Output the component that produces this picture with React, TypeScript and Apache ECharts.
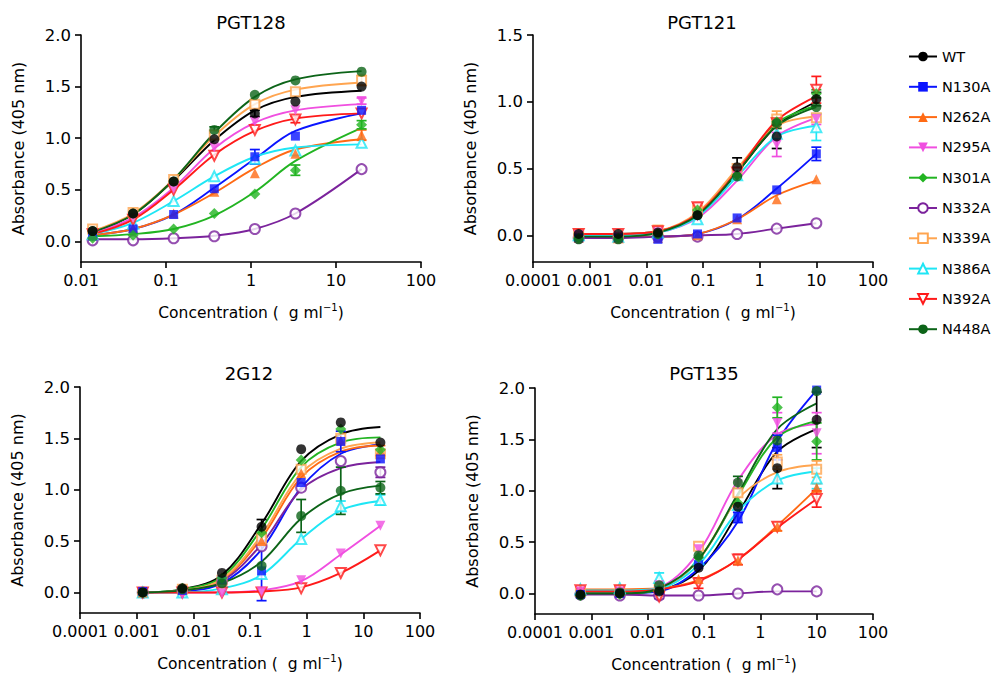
import React, { useEffect, useRef } from 'react';
import * as echarts from 'echarts';

// ---------- data ----------
const MUTANTS = ['WT', 'N130A', 'N262A', 'N295A', 'N301A', 'N332A', 'N339A', 'N386A', 'N392A', 'N448A'];

const X_TICKS_4DEC = [0.01, 0.1, 1, 10, 100];
const X_TICKS_6DEC = [0.0001, 0.001, 0.01, 0.1, 1, 10, 100];
const Y_TICKS_20 = [0, 0.5, 1, 1.5, 2];
const Y_TICKS_15 = [0, 0.5, 1, 1.5];

// PGT128
const PGT128_CONC = [0.0137, 0.041, 0.123, 0.37, 1.11, 3.33, 20];
const PGT128_MEAN = [
  [0.10, 0.27, 0.58, 0.99, 1.24, 1.355, 1.50],
  [0.05, 0.12, 0.26, 0.51, 0.82, 1.02, 1.27],
  [0.06, 0.13, 0.27, 0.48, 0.66, 0.85, 1.03],
  [0.08, 0.23, 0.51, 0.91, 1.16, 1.27, 1.36],
  [0.03, 0.06, 0.12, 0.27, 0.46, 0.69, 1.13],
  [0.01, 0.01, 0.03, 0.05, 0.12, 0.27, 0.70],
  [0.12, 0.28, 0.60, 1.03, 1.33, 1.45, 1.56],
  [0.07, 0.17, 0.39, 0.63, 0.80, 0.88, 0.955],
  [0.07, 0.21, 0.50, 0.83, 1.08, 1.18, 1.24],
  [0.10, 0.27, 0.58, 1.08, 1.42, 1.56, 1.645],
];
const PGT128_SEM = [
  [0, 0, 0, 0, 0.03, 0, 0],
  [0, 0, 0, 0, 0.07, 0, 0],
  [0, 0, 0, 0, 0, 0, 0.05],
  [0, 0, 0, 0, 0, 0, 0.03],
  [0, 0, 0, 0, 0, 0.05, 0.04],
  [0, 0, 0, 0, 0, 0, 0],
  [0, 0, 0, 0, 0, 0, 0.05],
  [0, 0, 0, 0, 0, 0, 0],
  [0, 0, 0, 0, 0, 0.03, 0],
  [0, 0, 0, 0.03, 0, 0, 0],
];
const PGT128_FIT = [
  [0.09, 0.26, 0.59, 0.98, 1.27, 1.40, 1.46],
  [0.06, 0.12, 0.26, 0.52, 0.80, 1.07, 1.24],
  [0.06, 0.12, 0.26, 0.47, 0.71, 0.89, 0.99],
  [0.08, 0.23, 0.52, 0.90, 1.15, 1.27, 1.33],
  [0.05, 0.07, 0.12, 0.25, 0.48, 0.78, 1.10],
  [0.02, 0.02, 0.03, 0.055, 0.12, 0.27, 0.70],
  [0.10, 0.27, 0.60, 1.02, 1.33, 1.47, 1.54],
  [0.07, 0.18, 0.39, 0.63, 0.82, 0.91, 0.94],
  [0.07, 0.21, 0.50, 0.84, 1.07, 1.19, 1.24],
  [0.09, 0.26, 0.60, 1.05, 1.40, 1.57, 1.65],
];

// PGT121
const PGT121_CONC = [0.00064, 0.0032, 0.016, 0.08, 0.4, 2, 10];
const PGT121_MEAN = [
  [0.01, 0.01, 0.02, 0.15, 0.51, 0.74, 1.02],
  [-0.02, -0.02, -0.03, 0.01, 0.13, 0.34, 0.61],
  [-0.02, -0.02, -0.02, 0.0, 0.12, 0.27, 0.42],
  [0.0, -0.01, 0.02, 0.14, 0.44, 0.68, 0.87],
  [-0.02, -0.02, 0.01, 0.19, 0.45, 0.85, 1.06],
  [-0.02, -0.02, -0.01, -0.01, 0.01, 0.05, 0.09],
  [0.01, -0.02, 0.04, 0.19, 0.50, 0.87, 0.88],
  [0.0, -0.01, 0.02, 0.12, 0.45, 0.76, 0.81],
  [0.01, 0.01, 0.03, 0.21, 0.47, 0.84, 1.09],
  [-0.03, -0.03, 0.01, 0.15, 0.44, 0.84, 0.96],
];
const PGT121_SEM = [
  [0, 0, 0, 0, 0.07, 0.09, 0.05],
  [0, 0, 0, 0, 0, 0, 0.05],
  [0, 0, 0, 0, 0, 0, 0],
  [0, 0, 0, 0, 0, 0.09, 0.04],
  [0, 0, 0, 0, 0, 0, 0.03],
  [0, 0, 0, 0, 0, 0, 0],
  [0, 0, 0, 0, 0, 0.06, 0],
  [0, 0, 0, 0, 0, 0, 0.10],
  [0, 0, 0, 0.03, 0, 0, 0.10],
  [0, 0, 0, 0, 0, 0.04, 0],
];
const PGT121_FIT = [
  [0.01, 0.01, 0.03, 0.15, 0.47, 0.82, 1.00],
  [-0.01, -0.01, -0.01, 0.01, 0.12, 0.35, 0.61],
  [-0.01, -0.01, -0.01, 0.01, 0.12, 0.30, 0.41],
  [0.0, 0.0, 0.02, 0.13, 0.41, 0.74, 0.88],
  [-0.01, -0.01, 0.02, 0.16, 0.48, 0.84, 0.97],
  [-0.02, -0.02, -0.01, 0.0, 0.01, 0.05, 0.09],
  [0.01, 0.01, 0.03, 0.17, 0.50, 0.82, 0.89],
  [0.0, 0.0, 0.02, 0.14, 0.44, 0.74, 0.82],
  [0.01, 0.01, 0.03, 0.16, 0.48, 0.86, 1.04],
  [-0.01, -0.01, 0.02, 0.15, 0.47, 0.82, 0.96],
];

// 2G12
const G12_CONC = [0.00128, 0.0064, 0.032, 0.16, 0.8, 4, 20];
const G12_MEAN = [
  [0.0, 0.04, 0.19, 0.64, 1.395, 1.655, 1.46],
  [0.01, 0.02, 0.12, 0.21, 1.07, 1.47, 1.30],
  [0.0, 0.03, 0.12, 0.50, 1.16, 1.48, 1.38],
  [0.0, -0.02, -0.01, 0.01, 0.12, 0.38, 0.65],
  [0.0, 0.04, 0.14, 0.58, 1.29, 1.59, 1.39],
  [0.0, 0.02, 0.10, 0.45, 1.02, 1.28, 1.17],
  [0.0, 0.03, 0.12, 0.52, 1.20, 1.50, 1.35],
  [0.0, 0.0, 0.03, 0.18, 0.52, 0.84, 0.90],
  [0.0, 0.0, 0.0, 0.0, 0.04, 0.19, 0.41],
  [0.0, 0.03, 0.09, 0.26, 0.745, 0.99, 1.02],
];
const G12_SEM = [
  [0, 0, 0, 0.07, 0, 0, 0],
  [0, 0, 0, 0.29, 0, 0.10, 0],
  [0, 0, 0, 0.04, 0, 0, 0.05],
  [0, 0, 0, 0, 0, 0, 0],
  [0, 0, 0, 0, 0, 0, 0],
  [0, 0, 0, 0, 0, 0, 0.05],
  [0, 0, 0, 0.05, 0, 0, 0],
  [0, 0, 0, 0, 0, 0.05, 0.05],
  [0, 0, 0, 0, 0, 0, 0],
  [0, 0, 0, 0, 0.16, 0.23, 0.06],
];
const G12_FIT = [
  [0.0, 0.03, 0.17, 0.67, 1.28, 1.54, 1.61],
  [0.0, 0.01, 0.09, 0.42, 1.02, 1.35, 1.44],
  [0.0, 0.02, 0.12, 0.53, 1.12, 1.37, 1.43],
  [0.0, 0.0, 0.0, 0.02, 0.11, 0.37, 0.65],
  [0.0, 0.03, 0.15, 0.62, 1.22, 1.46, 1.51],
  [0.0, 0.02, 0.11, 0.47, 1.00, 1.21, 1.27],
  [0.0, 0.02, 0.13, 0.56, 1.16, 1.40, 1.46],
  [0.0, 0.0, 0.04, 0.17, 0.52, 0.80, 0.89],
  [0.0, 0.0, 0.0, 0.01, 0.05, 0.19, 0.41],
  [0.0, 0.02, 0.09, 0.30, 0.72, 0.96, 1.04],
];

// PGT135
const PGT135_CONC = [0.00064, 0.0032, 0.016, 0.08, 0.4, 2, 10];
const PGT135_MEAN = [
  [-0.01, 0.0, 0.02, 0.25, 0.845, 1.22, 1.69],
  [-0.01, 0.0, 0.03, 0.28, 0.74, 1.42, 1.98],
  [0.04, 0.04, 0.05, 0.14, 0.32, 0.65, 1.03],
  [0.02, 0.02, 0.08, 0.43, 1.06, 1.66, 1.56],
  [-0.02, -0.01, 0.03, 0.35, 0.88, 1.81, 1.48],
  [-0.01, -0.02, -0.02, -0.02, 0.0, 0.04, 0.02],
  [0.02, 0.03, 0.06, 0.46, 0.98, 1.28, 1.21],
  [0.04, 0.05, 0.15, 0.33, 0.86, 1.12, 1.12],
  [0.03, 0.03, -0.03, 0.10, 0.33, 0.65, 0.92],
  [-0.02, 0.01, 0.08, 0.37, 1.08, 1.49, 1.97],
];
const PGT135_SEM = [
  [0, 0, 0, 0, 0, 0.20, 0.27],
  [0, 0, 0, 0, 0.05, 0.12, 0],
  [0, 0, 0, 0, 0, 0.04, 0.04],
  [0, 0, 0, 0, 0, 0.10, 0.20],
  [0, 0, 0, 0, 0, 0.10, 0.18],
  [0, 0, 0.03, 0, 0, 0, 0],
  [0, 0, 0, 0, 0, 0.07, 0.08],
  [0, 0, 0.05, 0, 0, 0, 0.10],
  [0, 0, 0, 0.05, 0.05, 0, 0.08],
  [0, 0, 0, 0, 0.06, 0, 0],
];
const PGT135_FIT = [
  [0.0, 0.0, 0.03, 0.22, 0.78, 1.38, 1.60],
  [0.0, 0.0, 0.02, 0.24, 0.70, 1.48, 1.98],
  [0.04, 0.04, 0.05, 0.13, 0.33, 0.66, 1.02],
  [0.02, 0.02, 0.06, 0.40, 1.10, 1.55, 1.65],
  [0.0, 0.0, 0.04, 0.33, 0.95, 1.52, 1.68],
  [-0.01, -0.01, -0.02, -0.02, 0.0, 0.02, 0.02],
  [0.02, 0.02, 0.05, 0.33, 0.92, 1.18, 1.25],
  [0.03, 0.03, 0.05, 0.28, 0.80, 1.10, 1.19],
  [0.02, 0.02, 0.04, 0.12, 0.33, 0.64, 0.92],
  [0.0, 0.0, 0.05, 0.33, 0.97, 1.60, 1.85],
];

// ---------- styles ----------
const COLORS = ['#000000', '#0a14ff', '#ff6a14', '#f04fe0', '#22b422', '#7b239c', '#ffa550', '#1ee6f5', '#ff1a1a', '#0c6418'];
const SYMBOLS = ['circle', 'rect', 'triangle', 'triangle', 'diamond', 'emptyCircle', 'emptyRect', 'emptyTriangle', 'emptyTriangle', 'circle'];
const ROTATES = [0, 0, 0, 180, 0, 0, 0, 0, 180, 0];
const SIZES = [10, 9, 10, 10, 11, 10, 9, 10, 10, 10];

const FONT = '"DejaVu Sans", Verdana, sans-serif';

const PANELS = [
  { title: 'PGT128', conc: PGT128_CONC, mean: PGT128_MEAN, sem: PGT128_SEM, fit: PGT128_FIT, xMin: 0.01, xTicks: X_TICKS_4DEC, yMax: 2, yTicks: Y_TICKS_20 },
  { title: 'PGT121', conc: PGT121_CONC, mean: PGT121_MEAN, sem: PGT121_SEM, fit: PGT121_FIT, xMin: 0.0001, xTicks: X_TICKS_6DEC, yMax: 1.5, yTicks: Y_TICKS_15 },
  { title: '2G12', conc: G12_CONC, mean: G12_MEAN, sem: G12_SEM, fit: G12_FIT, xMin: 0.0001, xTicks: X_TICKS_6DEC, yMax: 2, yTicks: Y_TICKS_20 },
  { title: 'PGT135', conc: PGT135_CONC, mean: PGT135_MEAN, sem: PGT135_SEM, fit: PGT135_FIT, xMin: 0.0001, xTicks: X_TICKS_6DEC, yMax: 2, yTicks: Y_TICKS_20 },
];

const LAYOUT = [
  { left: 81, top: 35, width: 340, height: 227, tx: 251, ty: 22 },
  { left: 533, top: 35, width: 340, height: 227, tx: 702, ty: 22 },
  { left: 80, top: 387, width: 340, height: 226, tx: 249, ty: 373 },
  { left: 535, top: 388, width: 338, height: 226, tx: 704, ty: 373 },
];

// marker drawing order: open markers underneath, filled markers on top
const MARK_ORDER = [5, 6, 7, 8, 2, 3, 1, 4, 9, 0];

function fmtLog(v: number) {
  const e = Math.round(Math.log10(v));
  return e < 0 ? Math.pow(10, e).toFixed(-e) : String(Math.round(Math.pow(10, e)));
}

function buildOption() {
  const grid: any[] = [];
  const xAxis: any[] = [];
  const yAxis: any[] = [];
  const graphic: any[] = [];
  const lines: any[] = [];
  const errs: any[] = [];
  const marks: any[] = [];

  PANELS.forEach((p, gi) => {
    const L = LAYOUT[gi];
    grid.push({ left: L.left, top: L.top, width: L.width, height: L.height, containLabel: false });
    xAxis.push({
      type: 'log', logBase: 10, gridIndex: gi, min: p.xMin, max: 100,
      splitNumber: p.xTicks.length - 1,
      axisLine: { show: true, onZero: false, lineStyle: { color: '#000', width: 1.6 } },
      axisTick: { show: true, inside: false, length: 6, customValues: p.xTicks, lineStyle: { color: '#000', width: 1.6 } },
      minorTick: { show: false },
      axisLabel: { customValues: p.xTicks, formatter: fmtLog, color: '#000', fontSize: 16, margin: 10, fontFamily: FONT },
      splitLine: { show: false },
      name: '{a|Concentration (  g ml}{s|\u22121}{a|)}',
      nameLocation: 'middle', nameGap: 40,
      nameTextStyle: {
        fontFamily: FONT,
        rich: {
          a: { fontSize: 15.5, color: '#000', fontFamily: FONT, lineHeight: 19, verticalAlign: 'bottom' },
          s: { fontSize: 10, color: '#000', fontFamily: FONT, lineHeight: 13, verticalAlign: 'top' },
        },
      },
    });
    yAxis.push({
      type: 'value', gridIndex: gi, min: -0.2, max: p.yMax,
      axisLine: { show: true, onZero: false, lineStyle: { color: '#000', width: 1.6 } },
      axisTick: { show: true, inside: false, length: 6, customValues: p.yTicks, lineStyle: { color: '#000', width: 1.6 } },
      axisLabel: { customValues: p.yTicks, formatter: (v: number) => v.toFixed(1), color: '#000', fontSize: 16.5, margin: 10, fontFamily: FONT },
      splitLine: { show: false },
      name: 'Absorbance (405 nm)', nameLocation: 'middle', nameGap: 55, nameRotate: 90,
      nameTextStyle: { fontSize: 16, color: '#000', fontFamily: FONT },
    });
    graphic.push({
      type: 'text', x: L.tx, y: L.ty,
      style: { text: p.title, fill: '#000', font: `18px ${FONT}`, textAlign: 'center', textVerticalAlign: 'middle' },
    });

    MUTANTS.forEach((m, mi) => {
      const color = COLORS[mi];
      lines.push({
        type: 'line', name: m, xAxisIndex: gi, yAxisIndex: gi, z: 2,
        data: p.conc.map((c, i) => [c, p.fit[mi][i]]),
        smooth: 0.35,
        symbol: SYMBOLS[mi], symbolRotate: ROTATES[mi], showSymbol: false, symbolSize: SIZES[mi],
        lineStyle: { color, width: 1.9 },
        itemStyle: { color },
        silent: true,
      });
      const errData = p.conc
        .map((c, i) => [c, p.mean[mi][i] - p.sem[mi][i], p.mean[mi][i] + p.sem[mi][i], p.sem[mi][i]])
        .filter((d) => d[3] > 0)
        .map((d) => [d[0], d[1], d[2]]);
      if (errData.length) {
        errs.push({
          type: 'custom', name: m, xAxisIndex: gi, yAxisIndex: gi, z: 3, silent: true,
          data: errData,
          encode: { x: 0, y: [1, 2] },
          renderItem: (params: any, api: any) => {
            const x = api.value(0);
            const p1 = api.coord([x, api.value(1)]);
            const p2 = api.coord([x, api.value(2)]);
            const w = 5;
            const st = { stroke: color, lineWidth: 1.7, fill: 'none' };
            return {
              type: 'group',
              children: [
                { type: 'line', shape: { x1: p1[0], y1: p1[1], x2: p2[0], y2: p2[1] }, style: st },
                { type: 'line', shape: { x1: p1[0] - w, y1: p1[1], x2: p1[0] + w, y2: p1[1] }, style: st },
                { type: 'line', shape: { x1: p2[0] - w, y1: p2[1], x2: p2[0] + w, y2: p2[1] }, style: st },
              ],
            };
          },
        });
      }
    });

    MARK_ORDER.forEach((mi) => {
      const color = COLORS[mi];
      const empty = SYMBOLS[mi].indexOf('empty') === 0;
      marks.push({
        type: 'scatter', name: MUTANTS[mi], xAxisIndex: gi, yAxisIndex: gi, z: 4, silent: true,
        symbol: SYMBOLS[mi], symbolRotate: ROTATES[mi], symbolSize: SIZES[mi],
        data: p.conc.map((c, i) => [c, p.mean[mi][i]]),
        itemStyle: empty ? { color, borderColor: color, borderWidth: 1.8 } : { color, borderWidth: 0 },
      });
    });
  });

  return {
    animation: false,
    backgroundColor: '#ffffff',
    textStyle: { fontFamily: FONT },
    grid, xAxis, yAxis, graphic,
    legend: {
      data: MUTANTS,
      orient: 'vertical', left: 903, top: 44,
      itemWidth: 28, itemHeight: 12, itemGap: 15.3,
      selectedMode: false,
      textStyle: { fontSize: 14.5, color: '#000', fontFamily: FONT },
    },
    series: [...lines, ...errs, ...marks],
  };
}

export default function App() {
  const ref = useRef<HTMLDivElement>(null);
  useEffect(() => {
    const chart = echarts.init(ref.current!, null, { renderer: 'svg' });
    chart.setOption(buildOption() as any);
    return () => chart.dispose();
  }, []);
  return (
    <div
      ref={ref}
      style={{ position: 'fixed', left: 0, top: 0, width: 991, height: 675, background: '#fff' }}
    />
  );
}
